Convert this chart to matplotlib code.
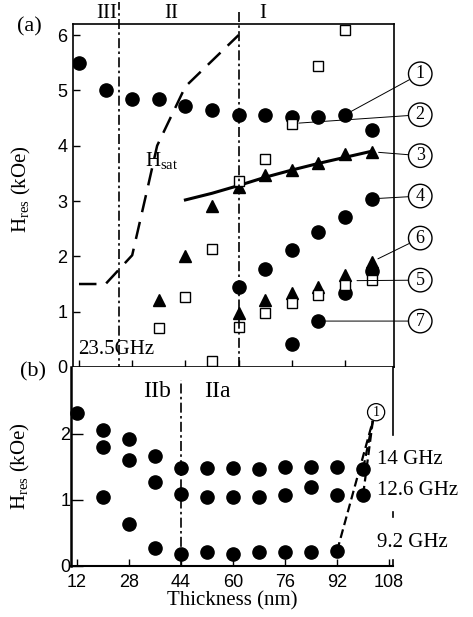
import matplotlib
matplotlib.use("Agg")
import matplotlib.pyplot as plt

plt.rcParams['font.family'] = 'Liberation Serif'
plt.rcParams['mathtext.fontset'] = 'custom'
plt.rcParams['mathtext.rm'] = 'Liberation Serif'
plt.rcParams['mathtext.it'] = 'Liberation Serif:italic'

# ---- panel (a) data: thickness (nm) vs H_res (kOe) ----
t1 = [12, 20, 28, 36, 44, 52, 60, 68, 76, 84, 92, 100]
h1 = [5.5, 5.0, 4.85, 4.85, 4.72, 4.65, 4.55, 4.55, 4.52, 4.52, 4.56, 4.29]
t2 = [36, 44, 52, 60, 68, 76, 84, 92]
h2 = [0.7, 1.27, 2.13, 3.36, 3.76, 4.4, 5.44, 6.1]
t3 = [36, 44, 52, 60, 68, 76, 84, 92, 100]
h3 = [1.21, 2.01, 2.91, 3.25, 3.47, 3.56, 3.69, 3.85, 3.89]
fit3_t = [44, 52, 60, 68, 76, 84, 92, 100]
fit3_h = [3.02, 3.14, 3.28, 3.43, 3.56, 3.68, 3.79, 3.9]
t4 = [60, 68, 76, 84, 92, 100]
h4 = [1.45, 1.77, 2.11, 2.44, 2.71, 3.04]
t5 = [52, 60, 68, 76, 84, 92, 100]
h5 = [0.1, 0.72, 0.98, 1.16, 1.30, 1.48, 1.58]
t6 = [60, 68, 76, 84, 92, 100]
h6 = [0.98, 1.21, 1.34, 1.45, 1.66, 1.9]
t7 = [76, 84, 92, 100]
h7 = [0.42, 0.83, 1.34, 1.74]
hsat_t = [12, 20, 28, 32.5, 35.5, 44, 60]
hsat_h = [1.5, 1.5, 2.02, 3.2, 4.0, 5.07, 6.0]
region_bounds = [24, 60]

# labels (1)-(7): label position, point the line goes to
mode_labels = ['1', '2', '3', '4', '6', '5', '7']
label_h = [5.30, 4.56, 3.82, 3.09, 2.33, 1.57, 0.83]
target_t = [92, 76, 100, 100, 100, 93.5, 84]
target_h = [4.56, 4.4, 3.89, 3.04, 1.9, 1.56, 0.83]

# ---- panel (b) data ----
tb14 = [12, 20, 28, 36, 44, 52, 60, 68, 76, 84, 92, 100]
hb14 = [2.32, 2.06, 1.92, 1.67, 1.48, 1.48, 1.48, 1.47, 1.5, 1.5, 1.5, 1.47]
tb126 = [20, 28, 36, 44, 52, 60, 68, 76, 84, 92, 100]
hb126 = [1.80, 1.61, 1.27, 1.09, 1.05, 1.05, 1.05, 1.08, 1.2, 1.08, 1.08]
tb92 = [20, 28, 36, 44, 52, 60, 68, 76, 84, 92]
hb92 = [1.05, 0.64, 0.27, 0.18, 0.21, 0.18, 0.21, 0.21, 0.21, 0.23]
freq_labels = ['14 GHz', '12.6 GHz', '9.2 GHz']
freq_label_h = [1.61, 1.15, 0.36]
xticks = [12, 28, 44, 60, 76, 92, 108]

fig = plt.figure(figsize=(4.73, 6.17), dpi=100)
ax = fig.add_axes([0.1543, 0.4052, 0.6786, 0.5559])
bx = fig.add_axes([0.1501, 0.0827, 0.6808, 0.3225])

tick_font = dict(family='Liberation Sans', size=13)
dashdot = (6, 2, 1.5, 2)

# ---------- (a) ----------
ax.plot(hsat_t, hsat_h, color='black', lw=1.8, dashes=(7, 4))
ax.plot(fit3_t, fit3_h, color='black', lw=2.2)
for t, h in [(t1, h1), (t4, h4), (t7, h7)]:
    ax.plot(t, h, 'o', color='black', ms=9.5, ls='none')
for t, h in [(t3, h3), (t6, h6)]:
    ax.plot(t, h, '^', color='black', ms=8.5, ls='none')
for t, h in [(t2, h2), (t5, h5)]:
    ax.plot(t, h, 's', mfc='white', mec='black', mew=1.0, ms=7, ls='none', clip_on=False)

ax.axvline(region_bounds[0], ymin=-0.02, ymax=1.064, color='black', lw=1.2,
           dashes=dashdot, clip_on=False)
ax.axvline(region_bounds[1], ymin=0, ymax=1.035, color='black', lw=1.2,
           dashes=dashdot, clip_on=False)

for lab, lh, tt, th in zip(mode_labels, label_h, target_t, target_h):
    ax.annotate(lab, xy=(tt, th), xytext=(114.6, lh), ha='center', va='center',
                fontsize=13, annotation_clip=False,
                bbox=dict(boxstyle='circle,pad=0.18', fc='white', ec='black', lw=1.0),
                arrowprops=dict(arrowstyle='-', lw=0.7, color='black',
                                shrinkA=0, shrinkB=5))

ax.text(37, 3.74, r'H$_{\mathrm{sat}}$', fontsize=15, ha='center', va='center')
ax.text(11.7, 0.31, '23.5GHz', fontsize=15, ha='left', va='center')
ax.text(0.106, 1.03, 'III', transform=ax.transAxes, fontsize=15, ha='center', va='center')
ax.text(0.305, 1.03, 'II', transform=ax.transAxes, fontsize=15, ha='center', va='center')
ax.text(0.592, 1.03, 'I', transform=ax.transAxes, fontsize=15, ha='center', va='center')

ax.set_xlim(10.2, 106.7)
ax.set_ylim(0, 6.2)
ax.set_xticks(xticks[:-1])
ax.set_xticklabels([])
ax.set_yticks(range(7))
ax.set_yticklabels([str(v) for v in range(7)], **tick_font)
ax.tick_params(direction='in', length=5, width=1.0, pad=4)
ax.set_ylabel(r'H$_{\mathrm{res}}$ (kOe)', fontsize=15)
ax.yaxis.set_label_coords(-0.125, 0.52)
for s in ax.spines.values():
    s.set_linewidth(1.2)

# ---------- (b) ----------
for t, h in [(tb14, hb14), (tb126, hb126), (tb92, hb92)]:
    bx.plot(t, h, 'o', color='black', ms=9.5, ls='none', clip_on=False)
    bx.plot([t[-1], 103], [h[-1], 2.2], color='black', lw=1.6, dashes=(4, 2))

bx.text(104, 2.33, '1', fontsize=10, ha='center', va='center',
        bbox=dict(boxstyle='circle,pad=0.15', fc='white', ec='black', lw=0.9))
bx.axvline(44, ymin=0, ymax=0.935, color='black', lw=1.2, dashes=dashdot)
bx.text(36.6, 2.64, 'IIb', fontsize=17, ha='center', va='center')
bx.text(55.1, 2.64, 'IIa', fontsize=17, ha='center', va='center')
for lab, lh in zip(freq_labels, freq_label_h):
    bx.text(104.3, lh, lab, fontsize=15, ha='left', va='center')

bx.set_xlim(10.15, 109.2)
bx.set_ylim(0, 3.015)
bx.set_xticks(xticks)
bx.set_xticklabels([str(v) for v in xticks], **tick_font)
bx.set_yticks([0, 1, 2])
bx.set_yticklabels(['0', '1', '2'], **tick_font)
bx.tick_params(axis='x', direction='in', length=5, width=1.0, pad=6)
bx.tick_params(axis='y', direction='in', length=8.5, width=1.0, pad=0.5)
bx.spines['top'].set_visible(False)
bx.spines['right'].set_visible(False)
bx.spines['left'].set_linewidth(1.8)
bx.spines['bottom'].set_linewidth(1.5)
# broken right frame, interrupted by the frequency labels
for y0, y1 in [(0.657, 1.0), (0.245, 0.272), (0.0, 0.03)]:
    bx.axvline(109.2, ymin=y0, ymax=y1, color='black', lw=1.2, clip_on=False)
bx.set_xlabel('Thickness (nm)', fontsize=15, labelpad=0)
bx.set_ylabel(r'H$_{\mathrm{res}}$ (kOe)', fontsize=15)
bx.yaxis.set_label_coords(-0.121, 0.5)

fig.text(0.063, 0.956, '(a)', fontsize=16, ha='center', va='center')
fig.text(0.07, 0.397, '(b)', fontsize=16, ha='center', va='center')

fig.savefig('out.png', dpi=100)
